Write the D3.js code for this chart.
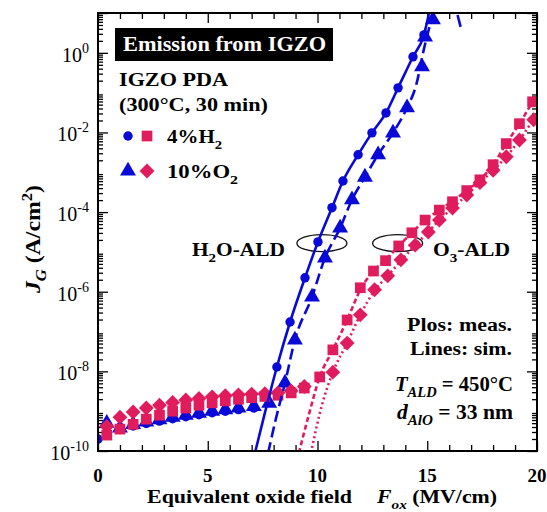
<!DOCTYPE html>
<html>
<head>
<meta charset="utf-8">
<script src="https://cdn.jsdelivr.net/npm/d3@7"></script>
<style>
  body { margin: 0; background: #fff; }
  svg { font-family: "Liberation Serif", "Times New Roman", serif; }
</style>
</head>
<body>
<svg id="chart" width="547" height="512"></svg>
<script>
// ---- data: [F_ox (MV/cm), log10 J_G (A/cm^2)] ----
const xTicks = [0, 5, 10, 15, 20];
const yTickExps = [0, -2, -4, -6, -8, -10];

// H2O-ALD, 4%H2 (circles) - low-field points mostly hidden under the triangles
const h2oH2Meas = [
  [0.0, -9.70], [0.4, -9.36], [1.0, -9.46], [1.6, -9.37], [2.2, -9.31], [2.8, -9.25],
  [3.4, -9.19], [4.0, -9.14], [4.6, -9.09], [5.2, -9.04], [5.8, -9.00], [6.4, -8.96],
  [7.1, -8.92], [8.15, -7.89], [8.75, -6.76], [9.43, -5.65], [10.02, -4.75],
  [10.66, -3.89], [11.16, -3.22], [11.85, -2.56], [12.48, -2.01], [13.12, -1.51],
  [13.67, -0.88], [14.35, -0.10], [14.85, 0.45]
];
// H2O-ALD, 10%O2 (triangles)
const h2oO2Meas = [
  [0.4, -9.30], [1.0, -9.42], [1.6, -9.33], [2.2, -9.27], [2.8, -9.21], [3.4, -9.15],
  [4.0, -9.10], [4.6, -9.05], [5.2, -9.00], [5.8, -8.96], [6.4, -8.92], [7.1, -8.88],
  [7.8, -8.80], [8.52, -8.29], [8.97, -7.21], [9.75, -6.13], [10.34, -5.15],
  [11.03, -4.40], [11.57, -3.69], [12.16, -3.12], [12.76, -2.56], [13.44, -2.01],
  [14.08, -1.38], [14.76, -0.35], [14.9, 0.40], [15.26, 0.83]
];
// O3-ALD, 4%H2 (squares)
const o3H2Meas = [
  [0.4, -9.60], [1.0, -9.45], [1.6, -9.33], [2.2, -9.20], [2.8, -9.10], [3.4, -9.00],
  [4.0, -8.92], [4.6, -8.85], [5.2, -8.79], [5.8, -8.74], [6.4, -8.70], [7.0, -8.66],
  [7.6, -8.63], [8.2, -8.60], [8.8, -8.54], [9.4, -8.42],
  [10.1, -8.14], [10.7, -7.46], [11.35, -6.71], [11.95, -5.90], [12.55, -5.48],
  [13.1, -5.22], [13.7, -4.85], [14.3, -4.52], [14.9, -4.20], [15.55, -3.95],
  [16.15, -3.74], [16.8, -3.46], [17.4, -3.19], [18.0, -2.81], [18.6, -2.28],
  [19.2, -1.78], [19.8, -1.23]
];
// O3-ALD, 10%O2 (diamonds)
const o3O2Meas = [
  [0.4, -9.38], [1.0, -9.15], [1.6, -9.02], [2.2, -8.92], [2.8, -8.85], [3.4, -8.78],
  [4.0, -8.72], [4.6, -8.68], [5.2, -8.64], [5.8, -8.61], [6.4, -8.59], [7.0, -8.57],
  [7.6, -8.56], [8.2, -8.54], [8.8, -8.49], [9.4, -8.38],
  [10.7, -8.02], [11.35, -7.29], [11.95, -6.58], [12.6, -5.95], [13.2, -5.60],
  [13.8, -5.20], [14.45, -4.83], [15.05, -4.50], [15.55, -4.20], [16.15, -3.90],
  [16.8, -3.57], [17.4, -3.26], [18.0, -2.95], [18.6, -2.61], [19.2, -2.19],
  [19.85, -1.68]
];

// simulations
const h2oH2Sim = [
  [7.15, -10.05], [7.6, -9.05], [8.15, -7.89], [8.75, -6.76], [9.43, -5.65],
  [10.02, -4.75], [10.66, -3.89], [11.16, -3.22], [11.85, -2.56], [12.48, -2.01],
  [13.12, -1.51], [13.67, -0.88], [14.35, -0.10], [14.85, 0.45], [15.1, 1.05]
];
const h2oO2Sim = [
  [7.75, -10.05], [8.1, -9.2], [8.52, -8.29], [8.97, -7.21], [9.75, -6.13],
  [10.34, -5.15], [11.03, -4.40], [11.57, -3.69], [12.16, -3.12], [12.76, -2.56],
  [13.44, -2.01], [14.08, -1.38], [14.5, -0.8], [14.85, 0.1], [15.3, 1.05]
];
const h2oStraySim = [[16.38, 0.95], [16.52, 0.65]];
const o3H2Sim = [
  [9.15, -10.05], [9.6, -9.1], [10.1, -8.14], [10.7, -7.46], [11.35, -6.71],
  [11.95, -5.95], [12.55, -5.48], [13.1, -5.20], [13.7, -4.85], [14.3, -4.52],
  [14.9, -4.20], [15.55, -3.95], [16.15, -3.72], [16.8, -3.46], [17.4, -3.19],
  [18.0, -2.81], [18.6, -2.28], [19.2, -1.78], [19.8, -1.23], [20.0, -1.05]
];
const o3O2Sim = [
  [9.7, -10.05], [10.2, -8.85], [10.7, -8.02], [11.35, -7.29], [11.95, -6.58],
  [12.6, -5.97], [13.2, -5.60], [13.8, -5.22], [14.45, -4.83], [15.05, -4.50],
  [15.55, -4.20], [16.15, -3.90], [16.8, -3.57], [17.4, -3.26], [18.0, -2.95],
  [18.6, -2.61], [19.2, -2.19], [19.85, -1.68], [20.0, -1.58]
];

const blue = "#0a0ad8";
const pink = "#e01c5c";

const svg = d3.select("#chart");
const plot = { left: 98, right: 537, top: 13, bottom: 451 };

const x = d3.scaleLinear().domain([0, 20]).range([plot.left, plot.right]);
const y = d3.scaleLog().domain([1e-10, 1e1]).range([plot.bottom, plot.top]);
const px = d => x(d[0]);
const py = d => y(Math.pow(10, d[1]));

svg.append("defs").append("clipPath").attr("id", "clip")
  .append("rect")
  .attr("x", plot.left).attr("y", plot.top)
  .attr("width", plot.right - plot.left).attr("height", plot.bottom - plot.top);

// ---- ticks (inward on all four sides) ----
const xMinor = d3.range(0, 21).filter(v => v % 5 !== 0);
const yMajor = yTickExps.map(e => Math.pow(10, e)).concat([10]);
const yMinor = [];
for (let e = -10; e < 1; e++) for (let k = 2; k <= 9; k++) yMinor.push(k * Math.pow(10, e));

function tickAxis(axis, values, size, transform) {
  const g = svg.append("g").attr("transform", transform)
    .call(axis.tickValues(values).tickSize(size).tickSizeOuter(0).tickFormat(""));
  g.select(".domain").remove();
  g.selectAll(".tick line").attr("stroke", "#000").attr("stroke-width", 1.3);
  return g;
}
tickAxis(d3.axisBottom(x), xTicks, -10, `translate(0,${plot.bottom})`);
tickAxis(d3.axisBottom(x), xMinor, -6, `translate(0,${plot.bottom})`);
tickAxis(d3.axisTop(x), xTicks, -10, `translate(0,${plot.top})`);
tickAxis(d3.axisTop(x), xMinor, -6, `translate(0,${plot.top})`);
tickAxis(d3.axisLeft(y), yMajor, -10, `translate(${plot.left},0)`);
tickAxis(d3.axisLeft(y), yMinor, -5, `translate(${plot.left},0)`);
tickAxis(d3.axisRight(y), yMajor, -10, `translate(${plot.right},0)`);
tickAxis(d3.axisRight(y), yMinor, -5, `translate(${plot.right},0)`);

// x tick labels
svg.append("g").selectAll("text").data(xTicks).join("text")
  .attr("x", d => x(d)).attr("y", 482)
  .attr("text-anchor", "middle")
  .attr("font-size", 19).attr("font-weight", "bold")
  .text(d => d);

// y tick labels 10^n
const yl = svg.append("g").selectAll("text").data(yTickExps).join("text")
  .attr("x", 89).attr("y", d => y(Math.pow(10, d)) + 9)
  .attr("text-anchor", "end")
  .attr("font-size", 20);
yl.append("tspan").text("10");
yl.append("tspan").attr("dy", -9).attr("font-size", 14).text(d => d === 0 ? "0" : "-" + (-d));

// ---- annotations behind the data ----
const ellipses = [
  { f: 10.2, lj: -4.78 },
  { f: 13.65, lj: -4.78 }
];
svg.append("g").selectAll("ellipse").data(ellipses).join("ellipse")
  .attr("cx", d => x(d.f)).attr("cy", d => y(Math.pow(10, d.lj)))
  .attr("rx", 25).attr("ry", 8.5)
  .attr("fill", "none").attr("stroke", "#111").attr("stroke-width", 1.3);

// ---- data ----
const data = svg.append("g").attr("clip-path", "url(#clip)");

const sym = (type, size) => d3.symbol().type(type).size(size)();

function markers(arr, type, size, color, rot) {
  data.append("g").selectAll("path").data(arr).join("path")
    .attr("d", sym(type, size))
    .attr("transform", d => `translate(${px(d)},${py(d)})` + (rot ? ` rotate(${rot})` : ""))
    .attr("fill", color);
}
markers(h2oH2Meas, d3.symbolCircle, 70, blue);
markers(h2oO2Meas, d3.symbolTriangle, 110, blue);
markers(o3O2Meas, d3.symbolSquare, 110, pink, 45);
markers(o3H2Meas, d3.symbolSquare, 115, pink);

const line = d3.line().x(px).y(py).curve(d3.curveMonotoneX);
function simLine(arr, color, dash) {
  data.append("path").datum(arr)
    .attr("d", line)
    .attr("fill", "none").attr("stroke", color).attr("stroke-width", 2.6)
    .attr("stroke-dasharray", dash);
}
simLine(h2oH2Sim, blue, null);
simLine(h2oO2Sim, blue, "11,5");
simLine(h2oStraySim, blue, null);
simLine(o3H2Sim, pink, "5,3");
simLine(o3O2Sim, pink, "2,3");

// frame
svg.append("rect")
  .attr("x", plot.left).attr("y", plot.top)
  .attr("width", plot.right - plot.left).attr("height", plot.bottom - plot.top)
  .attr("fill", "none").attr("stroke", "#000").attr("stroke-width", 2);

// ---- text helper: parts = [{t, i, sub, sup}] ----
function label(xp, yp, parts, o) {
  o = o || {};
  const t = svg.append("text").attr("x", xp).attr("y", yp)
    .attr("font-size", o.size || 18).attr("font-weight", "bold")
    .attr("fill", o.fill || "#000")
    .attr("text-anchor", o.anchor || "start");
  if (o.width) t.attr("textLength", o.width).attr("lengthAdjust", "spacingAndGlyphs");
  if (o.rotate) t.attr("transform", `rotate(${o.rotate},${xp},${yp})`);
  let shift = 0;
  parts.forEach(p => {
    const target = p.sub ? 6 : p.sup ? -8 : 0;
    const s = t.append("tspan").text(p.t);
    if (target !== shift) { s.attr("dy", target - shift); shift = target; }
    if (p.i) s.attr("font-style", "italic");
    if (p.sub || p.sup) s.attr("font-size", (o.size || 18) * 0.7);
  });
  return t;
}

// title box
svg.append("rect").attr("x", 115).attr("y", 28).attr("width", 218).attr("height", 33).attr("fill", "#000");
label(123, 51, [{ t: "Emission from IGZO" }], { size: 20, fill: "#fff", width: 203 });

label(119, 86, [{ t: "IGZO PDA" }], { size: 18, width: 109 });
label(119, 111, [{ t: "(300°C, 30 min)" }], { size: 18, width: 149 });

// legend
const legend = [
  { y: 136, left: { type: d3.symbolCircle, size: 70, c: blue }, right: { type: d3.symbolSquare, size: 115, c: pink }, text: [{ t: "4%H" }, { t: "2", sub: true }] },
  { y: 171, left: { type: d3.symbolTriangle, size: 110, c: blue }, right: { type: d3.symbolSquare, size: 110, c: pink, rot: 45 }, text: [{ t: "10%O" }, { t: "2", sub: true }] }
];
legend.forEach(l => {
  svg.append("path").attr("d", sym(l.left.type, l.left.size))
    .attr("transform", `translate(128,${l.y})`).attr("fill", l.left.c);
  svg.append("path").attr("d", sym(l.right.type, l.right.size))
    .attr("transform", `translate(147,${l.y})` + (l.right.rot ? ` rotate(${l.right.rot})` : "")).attr("fill", l.right.c);
});
label(167, 143, legend[0].text, { size: 19, width: 55 });
label(167, 178, legend[1].text, { size: 19, width: 71 });

label(192, 256, [{ t: "H" }, { t: "2", sub: true }, { t: "O-ALD" }], { size: 19, width: 93 });
label(433, 256, [{ t: "O" }, { t: "3", sub: true }, { t: "-ALD" }], { size: 19, width: 77 });

label(512, 331, [{ t: "Plos: meas." }], { size: 18, anchor: "end", width: 105 });
label(512, 355, [{ t: "Lines: sim." }], { size: 18, anchor: "end", width: 102 });
label(513, 391, [{ t: "T", i: true }, { t: "ALD", i: true, sub: true }, { t: " = 450°C" }], { size: 20, anchor: "end", width: 118 });
label(513, 419, [{ t: "d", i: true }, { t: "AlO", i: true, sub: true }, { t: " = 33 nm" }], { size: 20, anchor: "end", width: 116 });

// axis titles
label(147, 503, [{ t: "Equivalent oxide field" }], { size: 19, width: 205 });
label(377, 503, [{ t: "F", i: true }, { t: "ox", i: true, sub: true }, { t: " (MV/cm)" }], { size: 19, width: 120 });
label(40, 293, [{ t: "J", i: true }, { t: "G", i: true, sub: true }, { t: " (A/cm" }, { t: "2", sup: true }, { t: ")" }], { size: 21, width: 108, rotate: -90 });
</script>
</body>
</html>
